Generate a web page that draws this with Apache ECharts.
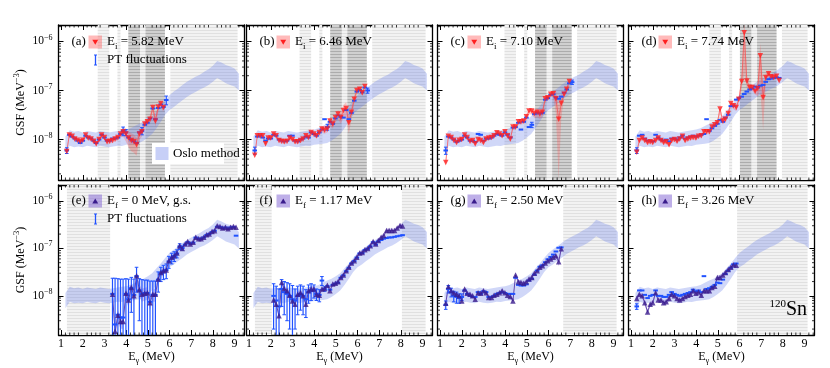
<!DOCTYPE html>
<html>
<head>
<meta charset="utf-8">
<script src="https://cdn.jsdelivr.net/npm/echarts@6/dist/echarts.min.js"></script>
<style>
  html, body { margin: 0; background: #fff; }
  #chart { width: 830px; height: 368px; }
</style>
</head>
<body>
<div id="chart"></div>
<script>
// gamma-energy bins (MeV), shared by all panels
const EBINS = [1.26,1.38,1.51,1.63,1.76,1.88,2.00,2.13,2.25,2.38,2.50,2.62,2.75,2.87,3.00,3.12,3.24,3.37,3.49,3.62,
  3.74,3.86,3.99,4.11,4.24,4.36,4.48,4.61,4.73,4.86,4.98,5.10,5.23,5.35,5.48,5.60,5.72,5.85,5.97,6.10,
  6.22,6.34,6.47,6.59,6.72,6.84,6.96,7.09,7.21,7.34,7.46,7.58,7.71,7.83,7.96,8.08,8.20,8.33,8.45,8.58,
  8.70,8.82,8.95,9.07,9.20];
// all GSF values below are in units of 1e-8 MeV^-3
const UNIT = 1e-8;

// Oslo method band
const OSLO_E = [1.2,1.4,1.6,1.8,2.0,2.2,2.4,2.6,2.8,3.0,3.2,3.4,3.6,3.8,4.0,4.2,4.4,4.6,4.8,5.0,
  5.2,5.4,5.6,5.8,6.0,6.2,6.4,6.6,6.8,7.0,7.2,7.4,7.6,7.8,8.0,8.2,8.4,8.6,8.8,9.0,9.2];
const OSLO_LO = [0.55,0.75,0.70,0.72,0.70,0.75,0.72,0.70,0.75,0.72,0.70,0.72,0.75,0.74,0.78,0.80,0.82,0.85,0.95,1.10,
  1.30,1.70,2.30,3.20,4.00,4.60,5.40,6.30,7.40,8.40,9.30,10.5,11.5,13.0,15.0,18.0,16.0,14.0,13.0,12.0,10.0];
const OSLO_HI = [1.15,1.55,1.45,1.50,1.40,1.50,1.45,1.40,1.50,1.45,1.40,1.45,1.50,1.55,1.60,1.70,1.90,2.10,2.30,2.60,
  3.00,3.80,4.80,6.30,8.00,9.50,11.0,13.0,15.0,17.0,19.0,21.0,24.0,27.0,32.0,40.0,37.0,33.0,31.0,28.0,22.0];

// (a) Ei = 5.82 MeV
const A_VAL = [0.57,1.24,1.17,1.03,0.97,0.90,0.97,1.24,1.08,1.03,0.92,0.82,1.00,1.24,1.10,0.90,0.92,0.96,1.03,1.10,
  1.30,1.45,1.30,1.08,0.96,0.90,0.78,1.30,1.45,2.07,2.30,2.60,4.50,2.40,4.60,5.40,4.50];
const A_BAND = [0.15,0.1,0.1,0.1,0.1,0.1,0.1,0.1,0.1,0.1,0.1,0.1,0.1,0.1,0.1,0.1,0.1,0.1,0.12,0.12,
  0.15,0.2,0.3,0.35,0.4,0.4,0.4,0.25,0.2,0.15,0.15,0.2,0.2,0.25,0.2,0.15,0.2];
const A_PT = [0.60,1.25,1.15,1.05,0.95,0.85,0.95,1.20,1.10,1.05,0.95,0.85,1.00,1.25,1.10,0.95,0.95,1.05,1.05,1.10,
  1.30,1.50,1.40,1.10,1.00,0.92,0.85,1.40,1.50,2.00,2.20,2.70,4.30,2.60,4.40,5.20,4.60,6.40];
const A_PT_ERR = [0.08,0.05,0.05,0.04,0.04,0.04,0.04,0.05,0.04,0.04,0.04,0.04,0.04,0.05,0.04,0.04,0.04,0.04,0.04,0.05,
  0.06,0.30,0.20,0.05,0.04,0.04,0.04,0.06,0.25,0.08,0.08,0.10,0.15,0.10,0.15,0.20,0.20,1.30];
const A_HATCH = [[2.69,3.22,0],[3.60,3.74,0],[4.10,4.64,1],[4.64,4.89,0],[4.89,5.79,1],[6.04,9.14,0]];

// (b) Ei = 6.46 MeV
const B_VAL = [0.48,1.20,1.20,1.20,0.82,1.07,1.07,1.30,1.20,0.96,0.92,0.90,0.92,1.07,1.00,0.90,0.90,0.96,1.03,1.20,
  1.10,1.40,1.30,1.20,1.40,1.64,1.55,1.64,2.40,2.07,2.80,3.30,2.80,3.90,4.30,2.20,3.60,6.60,10.0,10.6,9.0,12.0];
const B_BAND = [0.15,0.1,0.1,0.1,0.1,0.1,0.1,0.1,0.1,0.1,0.1,0.1,0.1,0.1,0.1,0.1,0.1,0.1,0.1,0.1,
  0.1,0.1,0.12,0.12,0.15,0.15,0.15,0.15,0.2,0.2,0.2,0.2,0.25,0.3,0.35,0.4,0.3,0.2,0.15,0.12,0.12,0.12];
const B_PT = [0.60,1.15,1.20,1.10,0.95,1.05,1.05,1.25,1.20,1.00,0.95,0.92,0.95,1.20,1.20,0.95,0.92,1.00,1.05,1.15,
  1.10,1.40,1.30,1.20,1.40,1.60,2.60,1.80,2.30,2.10,2.70,3.10,2.90,2.80,4.00,2.60,3.50,6.20,9.50,10.2,9.20,11.5,10.0];
const B_PT_ERR = [0.10,0.04,0.05,0.04,0.04,0.04,0.04,0.05,0.05,0.04,0.04,0.04,0.04,0.05,0.05,0.04,0.04,0.04,0.04,0.05,
  0.05,0.06,0.06,0.05,0.06,0.07,0.15,0.25,0.1,0.1,0.1,0.12,0.12,0.2,0.15,0.1,0.15,0.3,0.4,0.4,0.4,0.5,1.2];
const B_HATCH = [[3.33,3.86,0],[4.24,4.38,0],[4.74,5.28,1],[5.28,5.53,0],[5.53,6.43,1],[6.68,9.14,0]];

// (c) Ei = 7.10 MeV
const C_VAL = [0.34,1.17,1.10,0.97,0.87,0.97,1.00,1.24,1.10,0.92,0.96,0.82,1.00,0.96,0.87,1.03,1.07,1.10,1.20,1.38,
  1.30,1.20,1.45,1.20,1.03,1.80,1.80,2.30,2.30,2.40,2.90,3.80,3.80,3.40,3.60,3.30,3.60,6.80,7.10,8.40,
  8.60,6.80,2.60,5.50,8.40,10.6,15.3];
const C_BAND = [0.2,0.1,0.1,0.1,0.1,0.1,0.1,0.1,0.1,0.1,0.1,0.1,0.1,0.1,0.1,0.1,0.1,0.1,0.1,0.1,
  0.1,0.1,0.1,0.1,0.12,0.12,0.12,0.12,0.12,0.12,0.15,0.15,0.15,0.2,0.2,0.2,0.2,0.15,0.12,0.12,
  0.15,0.5,0.94,0.5,0.15,0.12,0.1];
const C_PT = [0.60,1.15,1.10,1.00,0.90,0.95,1.00,1.20,1.10,0.95,0.95,0.90,1.30,1.25,0.95,1.05,1.05,1.10,1.20,1.30,
  1.25,1.20,1.40,1.25,1.10,1.75,1.80,2.20,1.60,2.30,2.80,1.80,2.00,3.30,3.50,3.40,3.50,6.50,7.00,8.20,
  8.40,7.20,6.80,7.50,9.00,10.5,14.0,14.8];
const C_PT_ERR = [0.10,0.05,0.05,0.04,0.04,0.04,0.04,0.05,0.05,0.04,0.04,0.04,0.05,0.05,0.04,0.04,0.04,0.05,0.05,0.05,
  0.05,0.05,0.06,0.05,0.05,0.07,0.07,0.08,0.06,0.08,0.1,0.07,0.25,0.12,0.12,0.12,0.12,0.25,0.3,0.3,
  0.3,0.3,0.3,0.3,0.35,0.4,0.5,1.5];
const C_HATCH = [[3.97,4.50,0],[4.88,5.02,0],[5.38,5.92,1],[5.92,6.17,0],[6.17,7.07,1],[7.32,9.14,0]];

// (d) Ei = 7.74 MeV
const D_VAL = [0.55,0.96,1.07,0.96,0.87,0.90,0.87,0.96,1.07,0.96,0.87,0.90,0.78,0.96,1.00,0.92,1.03,1.17,0.96,1.03,
  1.07,1.10,1.07,1.17,1.20,1.45,1.45,1.45,1.80,2.00,2.20,4.20,2.40,2.60,3.40,5.40,4.90,4.50,6.60,15.3,
  150,15.6,11.5,11.5,9.70,11.0,51.0,7.20,18.5,22.0,19.0,18.5,19.5,16.0];
const D_BAND = [0.12,0.1,0.1,0.1,0.1,0.1,0.1,0.1,0.1,0.1,0.1,0.1,0.1,0.1,0.1,0.1,0.1,0.1,0.1,0.1,
  0.1,0.1,0.1,0.1,0.1,0.12,0.12,0.12,0.12,0.12,0.12,0.2,0.15,0.15,0.15,0.15,0.15,0.15,0.15,0.3,
  0.85,0.3,0.15,0.15,0.15,0.3,0.8,0.78,0.2,0.15,0.12,0.12,0.12,0.12];
const D_PT = [0.60,1.20,1.25,1.05,0.95,0.95,0.92,1.25,1.10,1.00,0.95,1.00,0.92,1.05,1.05,1.00,1.10,1.20,1.05,1.10,
  1.15,1.20,1.15,1.20,1.25,1.30,2.60,1.50,1.70,1.90,2.10,2.50,2.30,2.80,3.20,4.80,4.90,6.50,7.00,7.50,
  8.50,9.50,10.5,11.0,12.0,11.5,12.5,13.0,15.0,17.0,17.5,18.0,18.5,18.0];
const D_PT_ERR = [0.08,0.05,0.05,0.04,0.04,0.04,0.04,0.05,0.04,0.04,0.04,0.04,0.04,0.04,0.04,0.04,0.05,0.05,0.04,0.05,
  0.05,0.05,0.05,0.05,0.05,0.06,0.10,0.07,0.08,0.08,0.1,0.1,0.1,0.12,0.15,0.25,0.3,0.5,0.3,0.3,
  0.35,0.4,0.4,0.45,0.5,0.5,0.5,0.55,0.6,0.7,0.7,0.7,0.7,1.2];
const D_HATCH = [[4.61,5.14,0],[5.52,5.66,0],[6.02,6.56,1],[6.56,6.81,0],[6.81,7.71,1],[7.96,9.14,0]];

// (e) Ef = 0 MeV (g.s.), first bin index 17
const E_VAL = [1.08,0.18,0.39,0.29,0.29,1.14,0.82,1.50,1.00,2.65,1.34,1.08,1.14,1.17,0.72,1.08,1.08,2.26,3.10,3.40,
  3.50,5.50,6.50,7.00,8.00,11.4,10.0,12.4,13.9,12.4,13.5,17.2,15.9,15.9,17.2,19.3,20.0,22.7,23.6,30.0,
  29.0,27.0,28.0,26.0,28.0,29.0,28.0];
const E_BAND = [0.3,0.3,0.3,0.3,0.3,0.3,0.3,0.3,0.3,0.3,0.3,0.3,0.3,0.3,0.3,0.3,0.3,0.15,0.15,0.15,
  0.15,0.1,0.1,0.1,0.1,0.1,0.1,0.1,0.1,0.1,0.1,0.1,0.1,0.1,0.1,0.1,0.1,0.1,0.1,0.1,
  0.1,0.1,0.1,0.1,0.1,0.1,0.1];
const E_PT = [1.10,0.25,0.40,0.35,0.35,1.10,0.85,1.45,1.05,2.60,1.30,1.10,1.15,1.15,0.75,1.05,1.05,2.20,3.00,3.30,
  3.50,5.30,6.30,6.90,7.80,11.0,10.2,12.0,13.5,12.6,13.2,16.8,16.0,16.0,17.0,19.0,20.0,22.0,23.5,28.5,
  28.0,26.5,27.5,26.0,27.5,28.0,18.5];
const E_PT_ERR = [1.25,2.1,1.9,1.9,1.9,1.2,1.4,1.0,1.2,1.4,1.0,1.1,1.0,1.0,1.3,1.0,1.0,1.0,1.0,1.1,
  1.2,1.5,1.6,1.6,1.5,1.5,1.0,0.7,0.7,0.7,0.7,0.9,0.9,0.9,1.0,1.0,1.0,1.2,1.2,1.5,
  1.5,1.4,1.4,1.4,1.4,1.5,1.0];
const E_HATCH = [[1.27,3.26,0]];

// (f) Ef = 1.17 MeV, first bin index 7
const F_VAL = [0.82,0.67,0.38,1.91,1.43,1.28,1.03,0.78,0.67,1.08,1.17,1.00,0.67,1.28,1.39,1.39,1.08,1.03,1.39,1.43,
  1.68,1.28,1.77,1.85,1.98,2.44,2.74,3.40,4.00,4.90,5.50,6.50,8.00,8.20,9.40,10.0,11.4,13.9,12.4,14.6,
  17.2,18.6,23.8,23.8,23.8,23.8,26.7,30.3,29.6];
const F_BAND = [0.15,0.15,0.15,0.15,0.15,0.15,0.15,0.15,0.15,0.15,0.15,0.15,0.15,0.15,0.15,0.15,0.15,0.15,0.1,0.1,
  0.1,0.1,0.1,0.1,0.1,0.1,0.1,0.1,0.1,0.1,0.1,0.1,0.1,0.1,0.1,0.1,0.1,0.1,0.1,0.1,
  0.1,0.1,0.1,0.1,0.1,0.1,0.1,0.1,0.1];
const F_PT = [1.00,0.80,0.60,1.40,1.20,1.10,1.00,0.85,0.80,1.00,1.10,1.00,0.85,1.20,1.30,1.30,1.10,1.05,2.10,1.40,
  1.60,1.35,1.70,1.80,1.90,2.40,2.70,3.30,3.90,4.80,5.40,6.40,7.80,8.00,9.20,9.80,11.0,13.5,12.0,14.0,
  15.0,16.0,16.5,17.0,17.0,17.5,18.0,18.5,19.0];
const F_PT_ERR = [0.8,0.8,0.8,0.8,0.8,0.8,0.8,0.8,0.6,0.6,0.6,0.6,0.5,0.5,0.5,0.4,0.3,0.3,0.45,0.15,
  0.1,0.08,0.1,0.1,0.1,0.12,0.12,0.15,0.2,0.2,0.25,0.3,0.35,0.35,0.4,0.4,0.45,0.5,0.5,0.55,
  0.6,0.6,0.6,0.6,0.6,0.6,0.7,0.7,0.7];
const F_HATCH = [[1.27,2.04,0],[8.05,9.14,0]];

// (g) Ef = 2.50 MeV
const G_VAL = [0.70,1.57,1.28,1.17,1.08,1.00,0.78,1.39,1.14,1.08,1.00,0.85,1.17,1.14,1.28,1.17,0.92,0.92,1.03,1.08,
  1.17,1.28,1.17,1.03,0.97,0.78,2.74,1.98,1.91,1.85,1.98,2.26,2.44,3.00,3.40,4.00,4.30,4.90,5.50,6.00,
  6.50,7.00,5.25,9.80];
const G_BAND = [0.15,0.1,0.1,0.1,0.1,0.1,0.1,0.1,0.1,0.1,0.1,0.1,0.1,0.1,0.1,0.1,0.1,0.1,0.1,0.1,
  0.1,0.1,0.1,0.1,0.1,0.1,0.12,0.1,0.1,0.1,0.1,0.1,0.1,0.1,0.1,0.1,0.1,0.1,0.1,0.1,
  0.1,0.1,0.2,0.1];
const G_PT = [0.65,1.40,1.20,1.00,0.95,0.90,0.95,1.30,1.10,1.00,0.95,0.95,1.20,1.10,1.25,1.20,0.95,0.95,1.00,1.10,
  1.15,1.20,1.15,1.10,1.10,1.10,2.40,1.70,1.65,1.65,1.75,2.10,2.30,2.80,3.40,4.10,4.40,5.10,5.90,6.60,
  7.40,8.60,10.3,10.5];
const G_PT_ERR = [0.13,0.25,0.25,0.25,0.25,0.2,0.15,0.1,0.06,0.05,0.05,0.05,0.05,0.05,0.05,0.05,0.05,0.05,0.05,0.05,
  0.05,0.05,0.05,0.05,0.05,0.05,0.08,0.08,0.08,0.08,0.08,0.1,0.1,0.12,0.15,0.18,0.2,0.22,0.25,0.3,
  0.3,0.35,0.45,0.5];
const G_HATCH = [[6.68,9.14,0]];

// (h) Ef = 3.26 MeV
const H_VAL = [0.88,1.08,1.00,0.72,0.46,0.67,0.72,1.17,0.82,0.82,0.72,0.75,0.88,1.08,1.00,0.88,0.82,0.88,0.97,1.03,
  1.08,1.28,1.14,1.20,1.03,1.28,1.28,1.28,1.50,1.60,2.44,2.44,2.74,3.10,3.60,4.00,4.50,4.40];
const H_BAND = [0.12,0.12,0.12,0.12,0.12,0.12,0.12,0.12,0.12,0.12,0.12,0.12,0.12,0.12,0.12,0.12,0.12,0.12,0.12,0.12,
  0.12,0.12,0.12,0.12,0.12,0.12,0.12,0.12,0.12,0.12,0.12,0.12,0.12,0.12,0.12,0.12,0.12,0.12];
const H_PT = [0.60,1.30,1.30,1.05,0.90,1.00,1.05,1.30,1.00,1.00,0.95,0.95,1.05,1.20,1.10,1.05,1.00,1.05,1.10,1.15,
  1.20,1.35,1.25,1.30,1.20,2.60,1.40,1.45,1.55,1.70,1.90,1.85,2.20,2.90,3.40,3.90,4.60,4.80];
const H_PT_ERR = [0.08,0.06,0.06,0.05,0.05,0.05,0.05,0.06,0.05,0.05,0.05,0.05,0.05,0.06,0.05,0.05,0.05,0.05,0.05,0.06,
  0.06,0.07,0.06,0.07,0.06,0.12,0.07,0.07,0.08,0.08,0.1,0.1,0.12,0.15,0.15,0.2,0.2,0.25];
const H_HATCH = [[5.89,9.14,0]];

const PANELS = [
  {tag: '(a)', sub: 'i', text: ' = 5.82 MeV', start: 0, val: A_VAL, band: A_BAND, pt: A_PT, ptErr: A_PT_ERR, ptStart: 0, hatch: A_HATCH},
  {tag: '(b)', sub: 'i', text: ' = 6.46 MeV', start: 0, val: B_VAL, band: B_BAND, pt: B_PT, ptErr: B_PT_ERR, ptStart: 0, hatch: B_HATCH},
  {tag: '(c)', sub: 'i', text: ' = 7.10 MeV', start: 0, val: C_VAL, band: C_BAND, pt: C_PT, ptErr: C_PT_ERR, ptStart: 0, hatch: C_HATCH},
  {tag: '(d)', sub: 'i', text: ' = 7.74 MeV', start: 0, val: D_VAL, band: D_BAND, pt: D_PT, ptErr: D_PT_ERR, ptStart: 0, hatch: D_HATCH},
  {tag: '(e)', sub: 'f', text: ' = 0 MeV, g.s.', start: 17, val: E_VAL, band: E_BAND, pt: E_PT, ptErr: E_PT_ERR, ptStart: 17, hatch: E_HATCH},
  {tag: '(f)', sub: 'f', text: ' = 1.17 MeV', start: 7, val: F_VAL, band: F_BAND, pt: F_PT, ptErr: F_PT_ERR, ptStart: 7, hatch: F_HATCH},
  {tag: '(g)', sub: 'f', text: ' = 2.50 MeV', start: 0, val: G_VAL, band: G_BAND, pt: G_PT, ptErr: G_PT_ERR, ptStart: 0, hatch: G_HATCH},
  {tag: '(h)', sub: 'f', text: ' = 3.26 MeV', start: 0, val: H_VAL, band: H_BAND, pt: H_PT, ptErr: H_PT_ERR, ptStart: 0, hatch: H_HATCH}
];

const X_MAJOR = [1, 2, 3, 4, 5, 6, 7, 8, 9];

// layout
const FONT = "'Liberation Serif', 'DejaVu Serif', serif";
const LEFTS = [58.5, 246.5, 437.5, 628.5];
const TOPS = [25, 185];
const HEIGHTS = [155, 150];
const W = 186;
const XMIN = 0.88, XMAX = 9.46;
const YMIN = 1.5e-9, YMAX = 2.16e-6;

const BLUE = '#2152ff';
const OSLO_COLOR = 'rgba(100,122,232,0.30)';
const STYLE = {
  i: {mark: '#ff2020', line: 'rgba(255,70,70,0.8)', band: 'rgba(255,85,85,0.3)', box: 'rgba(255,90,90,0.42)', rot: 180},
  f: {mark: '#3a1c8c', line: '#4a2c9e', band: 'rgba(125,95,210,0.36)', box: 'rgba(125,95,210,0.5)', rot: 0}
};

function hatchPattern(bg, line) {
  const c = document.createElement('canvas');
  c.width = 4; c.height = 3;
  const g = c.getContext('2d');
  g.fillStyle = bg; g.fillRect(0, 0, 4, 3);
  g.fillStyle = line; g.fillRect(0, 0, 4, 1);
  return {image: c, repeat: 'repeat'};
}
const HATCH_FILL = [hatchPattern('#f2f2f2', '#e0e0e0'), hatchPattern('#d0d0d0', '#acacac')];

const RICH = {
  n: {fontFamily: FONT, fontSize: 12, color: '#000', lineHeight: 16},
  s: {fontFamily: FONT, fontSize: 8.5, color: '#000', lineHeight: 16, verticalAlign: 'bottom'},
  p: {fontFamily: FONT, fontSize: 8.5, color: '#000', lineHeight: 16, verticalAlign: 'top'}
};
const RICH_LEG = {
  n: {fontFamily: FONT, fontSize: 13, color: '#000', lineHeight: 18},
  s: {fontFamily: FONT, fontSize: 9, color: '#000', lineHeight: 18, verticalAlign: 'bottom'}
};

function isDecade(v) {
  const l = Math.log10(v);
  return Math.abs(l - Math.round(l)) < 1e-3;
}

const X_MINOR = [];
for (let k = 1; k < 9.5; k += 1) {
  [0.2, 0.4, 0.6, 0.8].forEach(f => { if (k + f < XMAX) X_MINOR.push(+(k + f).toFixed(1)); });
}
const Y_MINOR = [];
[1e-9, 1e-8, 1e-7, 1e-6].forEach(d => {
  for (let m = 2; m <= 9; m++) { const v = m * d; if (v > YMIN && v < YMAX) Y_MINOR.push(v); }
});

const option = {
  animation: false,
  backgroundColor: '#fff',
  textStyle: {fontFamily: FONT, color: '#000'},
  grid: [], xAxis: [], yAxis: [], series: [], graphic: []
};

function bandSeries(g, xs, lo, hi, color, z) {
  return {
    type: 'custom', xAxisIndex: 2 * g, yAxisIndex: 2 * g, z: z, silent: true, clip: true,
    data: [[xs[0], hi[0]]],
    renderItem: function (params, api) {
      const pts = xs.map((x, i) => api.coord([x, hi[i]]));
      for (let i = xs.length - 1; i >= 0; i--) pts.push(api.coord([xs[i], lo[i]]));
      return {type: 'polygon', shape: {points: pts}, style: {fill: color}};
    }
  };
}

PANELS.forEach((p, g) => {
  const row = g < 4 ? 0 : 1, col = g % 4;
  const st = STYLE[p.sub];
  const left = LEFTS[col], top = TOPS[row];
  option.grid.push({left: left, top: top, width: W, height: HEIGHTS[row], outerBoundsMode: 'none'});

  const tickStyle = {color: '#000', width: 1};
  const lineStyle = {color: '#000', width: 1.3};
  option.xAxis.push({
    gridIndex: g, type: 'value', min: XMIN, max: XMAX, position: 'bottom',
    axisLine: {show: true, lineStyle: lineStyle},
    axisTick: {show: true, inside: true, length: 5, customValues: X_MAJOR, lineStyle: tickStyle},
    axisLabel: {show: row === 1, customValues: X_MAJOR, fontSize: 12, color: '#000', margin: 3, fontFamily: FONT},
    splitLine: {show: false},
    name: row === 1 ? '{n|E}{s|γ}{n| (MeV)}' : '',
    nameLocation: 'middle', nameGap: 14,
    nameTextStyle: {rich: RICH}
  });
  option.xAxis.push({
    gridIndex: g, type: 'value', min: XMIN, max: XMAX, position: 'top',
    axisLine: {show: true, lineStyle: lineStyle},
    axisTick: {show: true, inside: true, length: 5, customValues: X_MAJOR, lineStyle: tickStyle},
    axisLabel: {show: false}, splitLine: {show: false}
  });
  option.yAxis.push({
    gridIndex: g, type: 'log', logBase: 10, min: YMIN, max: YMAX, position: 'left',
    axisLine: {show: true, lineStyle: lineStyle},
    axisTick: {show: true, inside: true, length: 5, lineStyle: tickStyle},
    axisLabel: {
      show: col === 0, margin: 6,
      formatter: function (v) {
        if (!isDecade(v)) return '';
        return '{b|10}{e|−' + (-Math.round(Math.log10(v))) + '}';
      },
      rich: {
        b: {fontFamily: FONT, fontSize: 11.5, color: '#000', lineHeight: 16},
        e: {fontFamily: FONT, fontSize: 8, color: '#000', lineHeight: 16, verticalAlign: 'top'}
      }
    },
    splitLine: {show: false},
    name: col === 0 ? '{n|GSF (MeV}{p|−3}{n|)}' : '',
    nameLocation: 'middle', nameRotate: 90, nameGap: 30,
    nameTextStyle: {rich: RICH}
  });
  option.yAxis.push({
    gridIndex: g, type: 'log', logBase: 10, min: YMIN, max: YMAX, position: 'right',
    axisLine: {show: true, lineStyle: lineStyle},
    axisTick: {show: true, inside: true, length: 5, lineStyle: tickStyle},
    axisLabel: {show: false}, splitLine: {show: false}
  });

  const xi = 2 * g, yi = 2 * g;

  // shaded (hatched) excluded regions
  option.series.push({
    type: 'custom', xAxisIndex: xi, yAxisIndex: yi, z: 1, silent: true, clip: true,
    data: p.hatch,
    renderItem: function (params, api) {
      const cs = params.coordSys;
      const x0 = api.coord([api.value(0), 1e-8])[0];
      const x1 = api.coord([api.value(1), 1e-8])[0];
      return {type: 'rect', shape: {x: x0, y: cs.y, width: x1 - x0, height: cs.height},
        style: {fill: HATCH_FILL[api.value(2)]}};
    }
  });

  // Oslo method band
  option.series.push(bandSeries(g, OSLO_E, OSLO_LO.map(v => v * UNIT), OSLO_HI.map(v => v * UNIT), OSLO_COLOR, 2));

  // ratio-method band, line and markers
  const xs = p.val.map((v, i) => EBINS[p.start + i]);
  const lo = p.val.map((v, i) => v * (1 - p.band[i]) * UNIT);
  const hi = p.val.map((v, i) => v * (1 + p.band[i]) * UNIT);
  option.series.push(bandSeries(g, xs, lo, hi, st.band, 3));
  const pts = p.val.map((v, i) => [xs[i], v * UNIT]);
  option.series.push({
    type: 'line', xAxisIndex: xi, yAxisIndex: yi, z: 4, silent: true,
    data: pts, symbol: 'none', lineStyle: {color: st.line, width: 0.8}
  });

  // PT fluctuations
  option.series.push({
    type: 'custom', xAxisIndex: xi, yAxisIndex: yi, z: 5, silent: true, clip: true,
    data: p.pt.map((v, i) => [EBINS[p.ptStart + i], v * UNIT, p.ptErr[i] * UNIT]),
    renderItem: function (params, api) {
      const cs = params.coordSys;
      const x = api.value(0), v = api.value(1), d = api.value(2);
      const c = api.coord([x, v]);
      const bottom = cs.y + cs.height;
      const yLo = v - d > YMIN ? api.coord([x, v - d])[1] : bottom + 2;
      const yHi = api.coord([x, v + d])[1];
      const kids = [];
      if (yLo - yHi > 4) {
        kids.push({type: 'line', shape: {x1: c[0], y1: yHi, x2: c[0], y2: Math.min(yLo, bottom)}, style: {stroke: BLUE, lineWidth: 1.2}});
        kids.push({type: 'line', shape: {x1: c[0] - 1.8, y1: yHi, x2: c[0] + 1.8, y2: yHi}, style: {stroke: BLUE, lineWidth: 1}});
        if (yLo < bottom) kids.push({type: 'line', shape: {x1: c[0] - 1.8, y1: yLo, x2: c[0] + 1.8, y2: yLo}, style: {stroke: BLUE, lineWidth: 1}});
      }
      kids.push({type: 'rect', shape: {x: c[0] - 2.3, y: c[1] - 1, width: 4.6, height: 2}, style: {fill: BLUE}});
      return {type: 'group', children: kids};
    }
  });

  option.series.push({
    type: 'scatter', xAxisIndex: xi, yAxisIndex: yi, z: 6, silent: true,
    data: pts, symbol: 'triangle', symbolRotate: st.rot, symbolSize: 5.5,
    itemStyle: {color: st.mark}
  });

  // minor ticks on all four sides
  const minorData = X_MINOR.map(x => [x, 1e-8, 0]).concat(Y_MINOR.map(y => [1, y, 1]));
  option.series.push({
    type: 'custom', xAxisIndex: xi, yAxisIndex: yi, z: 10, silent: true,
    data: minorData,
    renderItem: function (params, api) {
      const cs = params.coordSys;
      const c = api.coord([api.value(0), api.value(1)]);
      const s = {stroke: '#000', lineWidth: 0.8};
      if (api.value(2) === 0) {
        return {type: 'group', children: [
          {type: 'line', shape: {x1: c[0], y1: cs.y + cs.height, x2: c[0], y2: cs.y + cs.height - 2.5}, style: s},
          {type: 'line', shape: {x1: c[0], y1: cs.y, x2: c[0], y2: cs.y + 2.5}, style: s}
        ]};
      }
      return {type: 'group', children: [
        {type: 'line', shape: {x1: cs.x, y1: c[1], x2: cs.x + 2.5, y2: c[1]}, style: s},
        {type: 'line', shape: {x1: cs.x + cs.width, y1: c[1], x2: cs.x + cs.width - 2.5, y2: c[1]}, style: s}
      ]};
    }
  });

  // panel legend
  const ly = row === 0 ? 42 : 201;
  option.graphic.push(
    {type: 'text', x: left + 13, y: ly, z: 100, style: {text: p.tag, fontFamily: FONT, fontSize: 13, fill: '#000', verticalAlign: 'middle'}},
    {type: 'rect', x: left + 30, y: ly - 6.5, z: 100, shape: {width: 13.5, height: 13}, style: {fill: st.box}},
    {type: 'polygon', z: 101, shape: {points: st.rot ? [[left + 33.8, ly - 2.2], [left + 39.7, ly - 2.2], [left + 36.75, ly + 2.8]]
      : [[left + 33.8, ly + 2.6], [left + 39.7, ly + 2.6], [left + 36.75, ly - 2.4]]}, style: {fill: st.mark}},
    {type: 'text', x: left + 48.5, y: ly, z: 100, style: {text: '{n|E}{s|' + p.sub + '}{n|' + p.text + '}', rich: RICH_LEG, verticalAlign: 'middle'}}
  );
  if (g === 0 || g === 4) {
    const py = ly + 18;
    option.graphic.push(
      {type: 'line', z: 100, shape: {x1: left + 37, y1: py - 5, x2: left + 37, y2: py + 5}, style: {stroke: BLUE, lineWidth: 1.3}},
      {type: 'line', z: 100, shape: {x1: left + 35.5, y1: py - 5, x2: left + 38.5, y2: py - 5}, style: {stroke: BLUE, lineWidth: 1}},
      {type: 'line', z: 100, shape: {x1: left + 35.5, y1: py + 5, x2: left + 38.5, y2: py + 5}, style: {stroke: BLUE, lineWidth: 1}},
      {type: 'text', x: left + 48.5, y: py, z: 100, style: {text: 'PT fluctuations', fontFamily: FONT, fontSize: 13, fill: '#000', verticalAlign: 'middle'}}
    );
  }
  if (g === 0) {
    option.graphic.push(
      {type: 'rect', x: left + 93.5, y: 143, z: 99, shape: {width: 72, height: 21}, style: {fill: '#fff'}},
      {type: 'rect', x: left + 97, y: 147, z: 100, shape: {width: 13, height: 13}, style: {fill: 'rgba(100,122,232,0.36)'}},
      {type: 'text', x: left + 114.5, y: 153.5, z: 100, style: {text: 'Oslo method', fontFamily: FONT, fontSize: 13, fill: '#000', verticalAlign: 'middle'}}
    );
  }
});

option.graphic.push({
  type: 'text', x: 807, y: 321, z: 100,
  style: {
    text: '{p|120}{b|Sn}', align: 'right', verticalAlign: 'bottom',
    rich: {
      p: {fontFamily: FONT, fontSize: 11, fill: '#000', lineHeight: 22, verticalAlign: 'top'},
      b: {fontFamily: FONT, fontSize: 20, fill: '#000', lineHeight: 22}
    }
  }
});

const chart = echarts.init(document.getElementById('chart'), null, {renderer: 'canvas'});
chart.setOption(option);
</script>
</body>
</html>
